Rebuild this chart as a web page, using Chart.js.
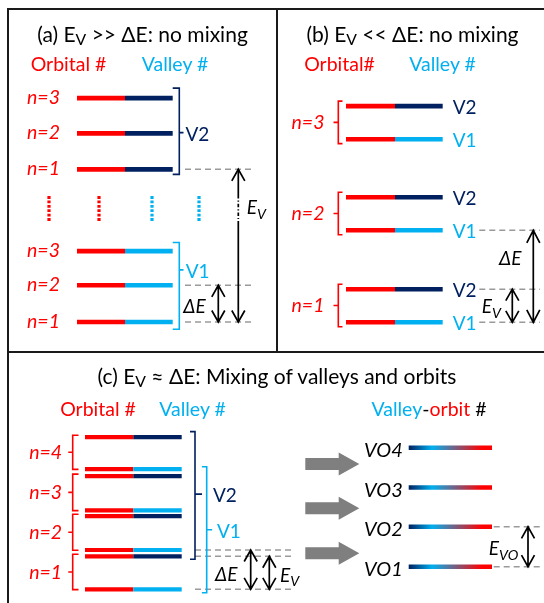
<!DOCTYPE html>
<html>
<head>
<meta charset="utf-8">
<script src="https://cdn.jsdelivr.net/npm/chart.js"></script>
<style>
html,body{margin:0;padding:0;background:#fff;}
#wrap{position:relative;width:544px;height:603px;overflow:hidden;font-family:Lato,"Open Sans","Noto Sans",sans-serif;}
#wrap canvas{position:absolute;left:0;top:0;}
.lbl{position:absolute;white-space:nowrap;line-height:1;}
.s1{font-size:0.75em;position:relative;top:0.18em;}
.s2{font-size:0.75em;position:relative;top:0.32em;}
.fr{position:absolute;background:#1a1a1a;}
</style>
</head>
<body>
<div id="wrap">
  <div class="fr" style="left:7.3px;top:8px;width:540px;height:2px"></div>
  <div class="fr" style="left:7.3px;top:8px;width:2px;height:600px"></div>
  <div class="fr" style="left:276.3px;top:8px;width:2px;height:344px"></div>
  <div class="fr" style="left:7.3px;top:350.5px;width:540px;height:2px"></div>
  <canvas id="ca" width="544" height="603"></canvas>
  <canvas id="cb" width="544" height="603"></canvas>
  <canvas id="cc" width="544" height="603"></canvas>
</div>
<script>
// ================= DATA (energies in units of ΔE, relative to n=1 / V1) =================
const orbitalLabels  = ['n=1', 'n=2', 'n=3'];
const orbitalLabelsC = ['n=1', 'n=2', 'n=3', 'n=4'];
const valleyLabels   = ['V1', 'V2'];
const voLabels       = ['VO1', 'VO2', 'VO3', 'VO4'];

// (a) E_V >> ΔE
const energyA_V1 = [0.00, 1.00, 1.93];
const energyA_V2 = [4.16, 5.14, 6.10];
// (b) E_V << ΔE
const energyB_V1 = [0.00, 1.00, 1.99];
const energyB_V2 = [0.36, 1.36, 2.35];
// (c) E_V ≈ ΔE
const energyC_V1 = [0.00, 1.00, 2.01, 3.06];
const energyC_V2 = [0.84, 1.86, 2.88, 3.87];
const energyC_VO = [0.575, 1.59, 2.59, 3.60];

// ================= LAYOUT / STYLE =================
const W = 544, H = 603;
const RED = '#FF0000', NAVY = '#002060', CYAN = '#00B0F0', DASH = '#9a9a9a';
const L = {
  a: {ground: 322, unitPx: 36.7, bar: [77, 125, 172.7], brk: [2.72, 3.43]},
  b: {ground: 322.3, unitPx: 92, bar: [346, 395, 442.7]},
  c: {ground: 589.3, unitPx: 39.3, bar: [85, 133.3, 181.7], vo: [408.7, 492], grayArrowE: [0.92, 2.06, 3.19]}
};

function levelDS(bar, e, col, w) {
  return {
    data: [{x: bar[0], y: e}, {x: bar[1], y: e}, {x: bar[2], y: e}],
    borderColor: col, borderWidth: w, pointRadius: 0, borderCapStyle: 'butt',
    segment: {borderColor: c => c.p0DataIndex === 0 ? RED : col}
  };
}
function dashDS(x0, x1, e) {
  return {data: [{x: x0, y: e}, {x: x1, y: e}], borderColor: DASH, borderWidth: 1.5,
          borderDash: [6, 4], pointRadius: 0, borderCapStyle: 'butt'};
}
function vDotDS(x, e0, e1, col) {
  return {data: [{x: x, y: e1}, {x: x, y: e0}], borderColor: col, borderWidth: 3.2,
          borderDash: [2.8, 1.6], pointRadius: 0, borderCapStyle: 'butt'};
}

function bracketGeom(chart, b) {
  const ys = chart.scales.y, xs = chart.scales.x;
  const top = ys.getPixelForValue(b.eTop) - b.padTop;
  const bot = ys.getPixelForValue(b.eBot) + b.padBot;
  return {X: xs.getPixelForValue(b.x), top, bot, mid: top + (bot - top) * b.frac};
}

function overlay(spec) {
  return {
    id: 'overlay',
    afterDatasetsDraw(chart) {
      const ctx = chart.ctx, xs = chart.scales.x, ys = chart.scales.y;
      const px = v => xs.getPixelForValue(v), py = v => ys.getPixelForValue(v);
      ctx.save();
      ctx.lineCap = 'butt'; ctx.lineJoin = 'miter';
      (spec.brackets || []).forEach(b => {
        const g = bracketGeom(chart, b);
        ctx.strokeStyle = b.color; ctx.lineWidth = 1.6;
        ctx.beginPath();
        ctx.moveTo(g.X + b.hook, g.top); ctx.lineTo(g.X, g.top);
        ctx.lineTo(g.X, g.bot); ctx.lineTo(g.X + b.hook, g.bot);
        ctx.moveTo(g.X, g.mid); ctx.lineTo(g.X + b.tick, g.mid);
        ctx.stroke();
      });
      (spec.arrows || []).forEach(a => {
        const X = px(a.x);
        const y1 = Math.min(py(a.e1), py(a.e2)), y2 = Math.max(py(a.e1), py(a.e2));
        const hl = a.head || 11.5, hw = a.half || 6.5;
        ctx.strokeStyle = '#000'; ctx.lineWidth = 1.7;
        ctx.beginPath();
        if (a.brk) {
          ctx.moveTo(X, y1); ctx.lineTo(X, a.brk[0]);
          ctx.moveTo(X, a.brk[1]); ctx.lineTo(X, y2);
          ctx.stroke();
          ctx.save(); ctx.setLineDash([3.5, 2, 1.2, 2]);
          ctx.beginPath(); ctx.moveTo(X, a.brk[0]); ctx.lineTo(X, a.brk[1]); ctx.stroke();
          ctx.restore();
          ctx.beginPath();
        } else {
          ctx.moveTo(X, y1); ctx.lineTo(X, y2);
        }
        ctx.moveTo(X - hw, y1 + hl); ctx.lineTo(X, y1); ctx.lineTo(X + hw, y1 + hl);
        ctx.moveTo(X - hw, y2 - hl); ctx.lineTo(X, y2); ctx.lineTo(X + hw, y2 - hl);
        ctx.stroke();
      });
      (spec.gray || []).forEach(e => {
        const cy = py(e);
        ctx.fillStyle = '#7f7f7f';
        ctx.beginPath();
        ctx.moveTo(px(305.3), cy - 6); ctx.lineTo(px(338.7), cy - 6); ctx.lineTo(px(338.7), cy - 11.5);
        ctx.lineTo(px(359.3), cy); ctx.lineTo(px(338.7), cy + 11.5); ctx.lineTo(px(338.7), cy + 6);
        ctx.lineTo(px(305.3), cy + 6); ctx.closePath(); ctx.fill();
      });
      ctx.restore();
    }
  };
}

function makeChart(id, lay, datasets, spec) {
  return new Chart(document.getElementById(id), {
    type: 'line',
    data: {datasets},
    options: {
      responsive: false, animation: false, events: [],
      layout: {padding: 0},
      plugins: {legend: {display: false}, tooltip: {enabled: false}},
      elements: {line: {tension: 0}, point: {radius: 0}},
      scales: {
        x: {type: 'linear', min: 0, max: W, display: false},
        y: {type: 'linear', min: -(H - lay.ground) / lay.unitPx, max: lay.ground / lay.unitPx, display: false}
      }
    },
    plugins: [overlay(spec)]
  });
}

// ---------- Panel (a) ----------
const dsA = [];
energyA_V1.forEach(e => dsA.push(levelDS(L.a.bar, e, CYAN, 4.6)));
energyA_V2.forEach(e => dsA.push(levelDS(L.a.bar, e, NAVY, 4.6)));
[energyA_V2[0], energyA_V1[1], energyA_V1[0]].forEach(e => dsA.push(dashDS(185, 252.3, e)));
[[49, RED], [99, RED], [152, CYAN], [199, CYAN]].forEach(([x, c]) => dsA.push(vDotDS(x, L.a.brk[0], L.a.brk[1], c)));
const brA = [
  {x: 179.3, hook: -6.6, tick: 4.2, eTop: energyA_V2[2], eBot: energyA_V2[0], padTop: 10, padBot: 5, frac: 0.516, color: NAVY},
  {x: 179.3, hook: -6.6, tick: 4.2, eTop: energyA_V1[2], eBot: energyA_V1[0], padTop: 8.6, padBot: 7.3, frac: 0.315, color: CYAN}
];
const chartA = makeChart('ca', L.a, dsA, {
  brackets: brA,
  arrows: [
    {x: 238.3, e1: energyA_V1[0], e2: energyA_V2[0], brk: [195, 224]},
    {x: 218.3, e1: energyA_V1[0], e2: energyA_V1[1]}
  ]
});

// ---------- Panel (b) ----------
const dsB = [];
energyB_V1.forEach(e => dsB.push(levelDS(L.b.bar, e, CYAN, 4.6)));
energyB_V2.forEach(e => dsB.push(levelDS(L.b.bar, e, NAVY, 4.6)));
[energyB_V1[1], energyB_V2[0], energyB_V1[0]].forEach(e => dsB.push(dashDS(479.3, 540, e)));
const brB = energyB_V1.map((e, i) => ({x: 338.3, hook: 4.2, tick: -4.8, eTop: energyB_V2[i], eBot: e, padTop: 5, padBot: 4.4, frac: 0.5, color: RED}));
const chartB = makeChart('cb', L.b, dsB, {
  brackets: brB,
  arrows: [
    {x: 533.3, e1: energyB_V1[0], e2: energyB_V1[1], head: 12.5},
    {x: 512.3, e1: energyB_V1[0], e2: energyB_V2[0]}
  ]
});

// ---------- Panel (c) ----------
const dsC = [];
energyC_V1.forEach(e => dsC.push(levelDS(L.c.bar, e, CYAN, 4.2)));
energyC_V2.forEach(e => dsC.push(levelDS(L.c.bar, e, NAVY, 4.2)));
energyC_VO.forEach(e => dsC.push({
  data: [{x: L.c.vo[0], y: e}, {x: L.c.vo[1], y: e}], borderWidth: 4.6, pointRadius: 0, borderCapStyle: 'butt',
  borderColor: ctx => {
    const ch = ctx.chart, xs = ch.scales && ch.scales.x;
    if (!xs || !ch.chartArea) return NAVY;
    const g = ch.ctx.createLinearGradient(xs.getPixelForValue(L.c.vo[0]), 0, xs.getPixelForValue(L.c.vo[1]), 0);
    g.addColorStop(0, NAVY); g.addColorStop(0.28, CYAN); g.addColorStop(0.88, RED); g.addColorStop(1, RED);
    return g;
  }
}));
[energyC_V1[1], energyC_V2[0], energyC_V1[0]].forEach(e => dsC.push(dashDS(195, 293.3, e)));
[energyC_VO[1], energyC_VO[0]].forEach(e => dsC.push(dashDS(493.7, 540.3, e)));
const brC = energyC_V1.map((e, i) => ({x: 72.7, hook: 5.8, tick: -4.4, eTop: energyC_V2[i], eBot: e, padTop: 2, padBot: 0.3, frac: 0.5, color: RED}));
const brCV2 = {x: 195, hook: -5, tick: 7, eTop: energyC_V2[3], eBot: energyC_V2[0], padTop: 5.6, padBot: 3, frac: 0.49, color: NAVY};
const brCV1 = {x: 206.7, hook: -4.8, tick: 5.5, eTop: energyC_V1[3], eBot: energyC_V1[0], padTop: 2.3, padBot: 3.4, frac: 0.5, color: CYAN};
const chartC = makeChart('cc', L.c, dsC, {
  brackets: brC.concat([brCV2, brCV1]),
  arrows: [
    {x: 250.7, e1: energyC_V1[0], e2: energyC_V1[1]},
    {x: 269.3, e1: energyC_V1[0], e2: energyC_V2[0]},
    {x: 528, e1: energyC_VO[0], e2: energyC_VO[1]}
  ],
  gray: L.c.grayArrowE
});

// ================= TEXT (real HTML text) =================
const wrap = document.getElementById('wrap');
function label(html, x, y, o = {}) {
  const d = document.createElement('div');
  d.className = 'lbl';
  d.innerHTML = html;
  d.style.left = x + 'px';
  d.style.top = y + 'px';
  d.style.fontSize = (o.size || 19) + 'px';
  d.style.color = o.color || '#000';
  if (o.italic) d.style.fontStyle = 'italic';
  const tx = o.align === 'center' ? '-50%' : (o.align === 'right' ? '-100%' : '0');
  d.style.transform = 'translate(' + tx + ',-50%)';
  wrap.appendChild(d);
}
const pyA = e => chartA.scales.y.getPixelForValue(e);
const pyB = e => chartB.scales.y.getPixelForValue(e);
const pyC = e => chartC.scales.y.getPixelForValue(e);

// (a)
label('(a) E<span class="s1">V</span> &gt;&gt; ΔE: no mixing', 142.5, 33, {size: 21, align: 'center'});
label('Orbital #', 68.5, 64, {size: 19.5, color: RED, align: 'center'});
label('Valley #', 175, 64, {size: 19.5, color: CYAN, align: 'center'});
orbitalLabels.forEach((t, i) => {
  label(t, 43.5, pyA(energyA_V2[i]) - 1.5, {size: 19.5, color: RED, italic: true, align: 'center'});
  label(t, 43.5, pyA(energyA_V1[i]) - 1, {size: 19.5, color: RED, italic: true, align: 'center'});
});
label(valleyLabels[1], 185.5, bracketGeom(chartA, brA[0]).mid, {size: 19, color: NAVY});
label(valleyLabels[0], 185.7, bracketGeom(chartA, brA[1]).mid, {size: 19, color: CYAN});
label('E<span class="s2">V</span>', 246.7, 207, {size: 19, italic: true});
label('ΔE', 183.3, 305, {size: 19, italic: true});

// (b)
label('(b) E<span class="s1">V</span> &lt;&lt; ΔE: no mixing', 412.5, 33, {size: 21, align: 'center'});
label('Orbital#', 339.5, 64, {size: 19.5, color: RED, align: 'center'});
label('Valley #', 442.5, 64, {size: 19.5, color: CYAN, align: 'center'});
orbitalLabels.forEach((t, i) => {
  label(t, 308, bracketGeom(chartB, brB[i]).mid, {size: 19.5, color: RED, italic: true, align: 'center'});
  label(valleyLabels[1], 452.7, pyB(energyB_V2[i]), {size: 19, color: NAVY});
  label(valleyLabels[0], 452.7, pyB(energyB_V1[i]), {size: 19, color: CYAN});
});
label('ΔE', 499, 257, {size: 19, italic: true});
label('E<span class="s2">V</span>', 481.7, 306, {size: 19, italic: true});

// (c)
label('(c) E<span class="s1">V</span> ≈ ΔE: Mixing of valleys and orbits', 277, 375, {size: 21, align: 'center'});
label('Orbital #', 98, 408.5, {size: 19.5, color: RED, align: 'center'});
label('Valley #', 192.5, 408.5, {size: 19.5, color: CYAN, align: 'center'});
label('<span style="color:' + CYAN + '">Valley</span>-<span style="color:' + RED + '">orbit</span> #', 429, 409, {size: 19.5, align: 'center'});
orbitalLabelsC.forEach((t, i) => {
  label(t, 45.7, bracketGeom(chartC, brC[i]).mid, {size: 19.5, color: RED, italic: true, align: 'center'});
});
label(valleyLabels[1], 213, bracketGeom(chartC, brCV2).mid, {size: 19, color: NAVY});
label(valleyLabels[0], 217, bracketGeom(chartC, brCV1).mid, {size: 19, color: CYAN});
voLabels.forEach((t, i) => label(t, 383.5, pyC(energyC_VO[i]) + 1, {size: 20, italic: true, align: 'center'}));
label('ΔE', 215, 573, {size: 19, italic: true});
label('E<span class="s2">V</span>', 280, 574.5, {size: 19, italic: true});
label('E<span class="s2">VO</span>', 488.7, 548, {size: 19, italic: true});
</script>
</body>
</html>
